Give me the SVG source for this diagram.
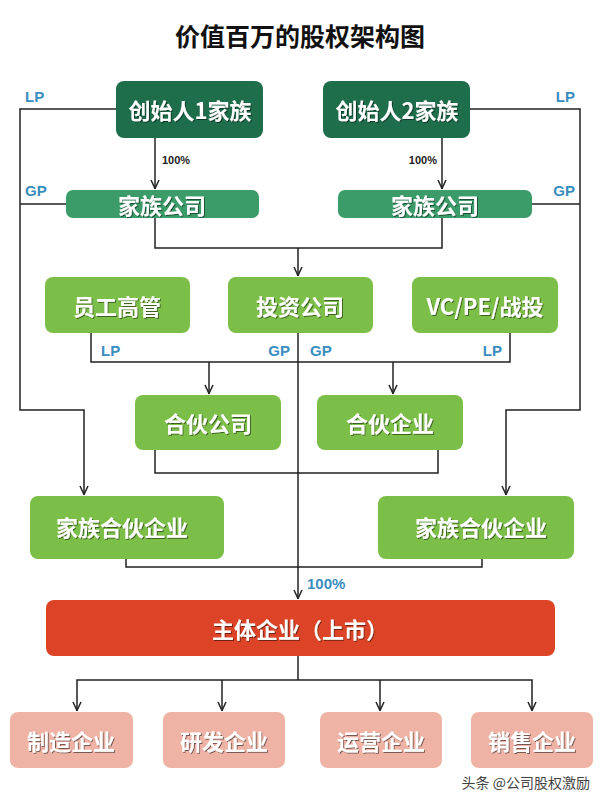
<svg xmlns="http://www.w3.org/2000/svg" width="600" height="800" viewBox="0 0 600 800">
<defs>
<style>
.t{font-family:"Noto Sans CJK SC","Noto Sans",sans-serif;font-weight:bold;text-anchor:middle;dominant-baseline:central;fill:#fff;font-size:22px;filter:url(#sh)}
.lbl{font-family:"Liberation Sans","Noto Sans",sans-serif;font-weight:bold;fill:#3a8dbf;font-size:15px}
.pct{font-family:"Liberation Sans",sans-serif;font-weight:bold;fill:#222;font-size:11px}
.ln{fill:none;stroke:#222;stroke-width:1.5}
.dk{fill:#1f6e4b}
.md{fill:#3b9b69}
.lg{fill:#7cbf48}
.rd{fill:#dd4427}
.pk{fill:#efb3a6}
</style>
<filter id="sh" x="-10%" y="-20%" width="120%" height="140%"><feDropShadow dx="1" dy="1" stdDeviation="0.4" flood-color="#000" flood-opacity="0.5"/></filter>
<marker id="ar" viewBox="0 0 10 10" refX="10" refY="5" markerWidth="10" markerHeight="10" orient="auto-start-reverse" markerUnits="userSpaceOnUse"><path d="M1,1 L9.5,5 L1,9" fill="none" stroke="#222" stroke-width="1.5"/></marker>
</defs>
<rect width="600" height="800" fill="#fff"/>
<text x="300" y="35" font-family="Noto Sans CJK SC,sans-serif" font-weight="bold" font-size="25" text-anchor="middle" dominant-baseline="central" fill="#111">价值百万的股权架构图</text>

<g id="connectors">
<path class="ln" d="M116,109 H20 V410 H84 V495" marker-end="url(#ar)"/>
<path class="ln" d="M66,204 H20"/>
<path class="ln" d="M470,109 H580 V410 H506 V495" marker-end="url(#ar)"/>
<path class="ln" d="M532,204 H580"/>
<path class="ln" d="M155,138 V189" marker-end="url(#ar)"/>
<path class="ln" d="M442,138 V189" marker-end="url(#ar)"/>
<path class="ln" d="M155,218 V248 H442 V218"/>
<path class="ln" d="M298,248 V276" marker-end="url(#ar)"/>
<path class="ln" d="M91,333 V362 H510 V333"/>
<path class="ln" d="M209,362 V394" marker-end="url(#ar)"/>
<path class="ln" d="M393,362 V394" marker-end="url(#ar)"/>
<path class="ln" d="M298,333 V599" marker-end="url(#ar)"/>
<path class="ln" d="M155,450 V473 H438 V450"/>
<path class="ln" d="M126,559 V567 H482 V559"/>
<path class="ln" d="M298,656 V680"/>
<path class="ln" d="M77,711 V680 H532 V711" marker-end="url(#ar)" marker-start="url(#ar)"/>
<path class="ln" d="M222,680 V711" marker-end="url(#ar)"/>
<path class="ln" d="M380,680 V711" marker-end="url(#ar)"/>
<text class="pct" x="162" y="164">100%</text>
<text class="pct" x="437" y="164" text-anchor="end">100%</text>
<text class="lbl" x="25" y="102">LP</text>
<text class="lbl" x="25" y="196">GP</text>
<text class="lbl" x="575" y="102" text-anchor="end">LP</text>
<text class="lbl" x="575" y="196" text-anchor="end">GP</text>
<text class="lbl" x="101" y="356">LP</text>
<text class="lbl" x="290" y="356" text-anchor="end">GP</text>
<text class="lbl" x="310" y="356">GP</text>
<text class="lbl" x="502" y="356" text-anchor="end">LP</text>
<text class="lbl" x="307" y="589">100%</text>
</g>

<g id="founder1"><rect class="dk" x="116" y="81" width="147" height="57" rx="8"/><text class="t" x="190" y="109">创始人1家族</text></g>
<g id="founder2"><rect class="dk" x="323" y="81" width="147" height="57" rx="8"/><text class="t" x="397" y="109">创始人2家族</text></g>
<g id="family-co-1"><rect class="md" x="66" y="190" width="193" height="28" rx="7"/><text class="t" x="162" y="204" font-size="21">家族公司</text></g>
<g id="family-co-2"><rect class="md" x="338" y="190" width="194" height="28" rx="7"/><text class="t" x="435" y="204" font-size="21">家族公司</text></g>
<g id="staff"><rect class="lg" x="45" y="277" width="145" height="56" rx="8"/><text class="t" x="117" y="305">员工高管</text></g>
<g id="invest"><rect class="lg" x="228" y="277" width="145" height="56" rx="8"/><text class="t" x="300" y="305">投资公司</text></g>
<g id="vcpe"><rect class="lg" x="412" y="277" width="146" height="56" rx="8"/><text class="t" x="485" y="305">VC/PE/战投</text></g>
<g id="partner-co"><rect class="lg" x="135" y="395" width="146" height="55" rx="8"/><text class="t" x="208" y="422">合伙公司</text></g>
<g id="partner-ent"><rect class="lg" x="317" y="395" width="146" height="55" rx="8"/><text class="t" x="390" y="422">合伙企业</text></g>
<g id="family-lp-1"><rect class="lg" x="30" y="496" width="194" height="63" rx="8"/><text class="t" x="122" y="526">家族合伙企业</text></g>
<g id="family-lp-2"><rect class="lg" x="378" y="496" width="196" height="63" rx="8"/><text class="t" x="481" y="526">家族合伙企业</text></g>
<g id="main"><rect class="rd" x="46" y="600" width="509" height="56" rx="8"/><text class="t" x="300" y="628">主体企业（上市）</text></g>
<g id="mfg"><rect class="pk" x="10" y="712" width="123" height="56" rx="8"/><text class="t" x="71" y="740">制造企业</text></g>
<g id="rnd"><rect class="pk" x="163" y="712" width="122" height="56" rx="8"/><text class="t" x="224" y="740">研发企业</text></g>
<g id="ops"><rect class="pk" x="320" y="712" width="122" height="56" rx="8"/><text class="t" x="381" y="740">运营企业</text></g>
<g id="sales"><rect class="pk" x="471" y="712" width="122" height="56" rx="8"/><text class="t" x="532" y="740">销售企业</text></g>
<text x="590" y="782" font-family="Noto Sans CJK SC,sans-serif" font-size="14" fill="#444" text-anchor="end" dominant-baseline="central">头条 @公司股权激励</text>
</svg>
